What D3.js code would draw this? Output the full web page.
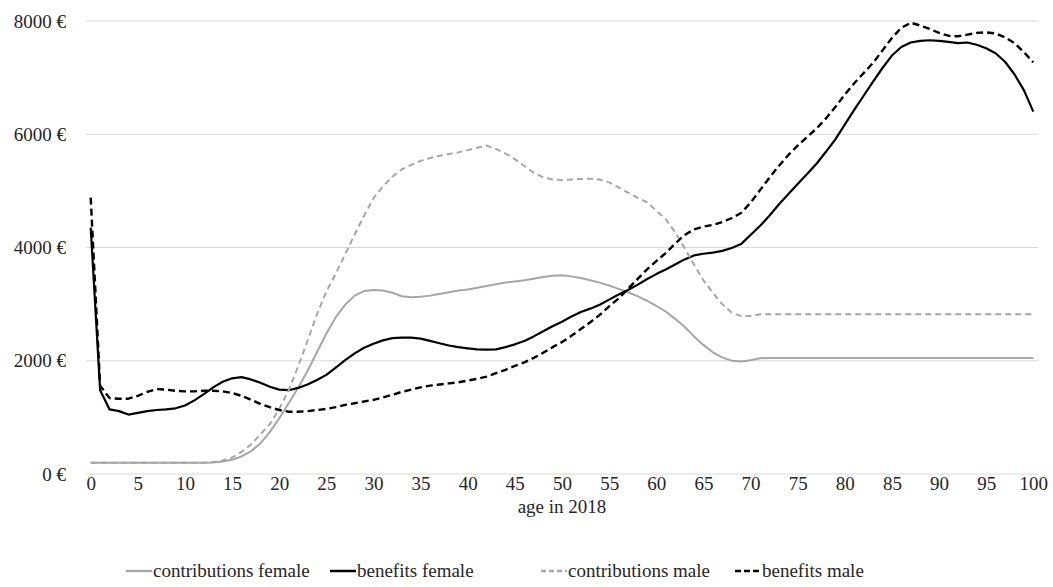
<!DOCTYPE html>
<html>
<head>
<meta charset="utf-8">
<script src="https://cdn.jsdelivr.net/npm/d3@7"></script>
<style>
  html, body { margin: 0; padding: 0; background: #fff; }
  svg { display: block; }
  text { font-family: "Liberation Serif", "Times New Roman", serif; fill: #262626; }
</style>
</head>
<body>
<svg id="chart" width="1053" height="587"></svg>
<script>
// ---- data ----
const ages = d3.range(0, 101);
const xTickValues = d3.range(0, 101, 5);
const yTickValues = [0, 2000, 4000, 6000, 8000];

const contributionsFemale = [
  200,200,200,200,200,200,200,200,200,200,200,200,200,
  205,220,250,310,400,540,740,980,1250,1520,1820,2150,2480,2770,2990,3150,3230,
  3250,3240,3200,3140,3120,3130,3150,3180,3210,3240,
  3260,3290,3320,3350,3380,3400,3420,3450,3480,3500,
  3510,3490,3460,3420,3380,3330,3270,3210,3140,3060,
  2970,2870,2740,2600,2430,2280,2150,2060,2000,1985,
  2010,2045,
  2050,2050,2050,2050,2050,2050,2050,2050,2050,2050,
  2050,2050,2050,2050,2050,2050,2050,2050,2050,2050,
  2050,2050,2050,2050,2050,2050,2050,2050,2050
];
const benefitsFemale = [
  4350,1480,1140,1110,1050,1080,1110,1130,1140,1160,
  1210,1300,1410,1530,1630,1690,1710,1670,1610,1540,
  1490,1480,1520,1580,1660,1750,1880,2010,2130,2230,
  2300,2360,2400,2410,2410,2390,2350,2310,2270,2240,
  2220,2200,2195,2200,2240,2290,2350,2430,2520,2610,
  2690,2780,2860,2920,2990,3080,3170,3250,3340,3440,
  3530,3610,3700,3790,3860,3890,3910,3940,3990,4060,
  4220,4380,4560,4760,4940,5120,5300,5480,5690,5910,
  6170,6430,6680,6930,7170,7390,7540,7620,7650,7660,
  7650,7630,7610,7620,7580,7520,7430,7280,7060,6780,
  6400
];
const contributionsMale = [
  200,200,200,200,200,200,200,200,200,200,200,200,200,
  210,240,290,390,520,700,880,1150,1480,1900,2350,2820,3220,3540,3880,4230,4560,
  4870,5080,5250,5380,5460,5530,5580,5620,5650,5680,
  5720,5760,5800,5740,5660,5560,5440,5320,5240,5200,
  5190,5200,5210,5215,5200,5150,5060,4970,4880,4800,
  4650,4500,4270,3990,3700,3420,3200,3000,2850,2790,
  2790,2820,
  2820,2820,2820,2820,2820,2820,2820,2820,2820,2820,
  2820,2820,2820,2820,2820,2820,2820,2820,2820,2820,
  2820,2820,2820,2820,2820,2820,2820,2820,2820
];
const benefitsMale = [
  4880,1560,1340,1330,1330,1380,1450,1500,1490,1470,
  1460,1460,1470,1470,1460,1430,1380,1310,1240,1180,
  1130,1100,1100,1110,1130,1150,1180,1220,1250,1280,
  1310,1350,1400,1450,1490,1530,1560,1580,1600,1620,
  1650,1680,1720,1780,1840,1910,1970,2050,2140,2240,
  2330,2440,2560,2680,2810,2960,3100,3270,3440,3610,
  3760,3900,4070,4220,4320,4370,4400,4450,4520,4610,
  4790,5010,5230,5440,5630,5800,5950,6100,6280,6480,
  6700,6900,7080,7260,7480,7700,7880,7970,7920,7860,
  7790,7740,7730,7760,7790,7800,7780,7710,7610,7450,
  7270
];

const seriesNames = ["contributions female", "benefits female", "contributions male", "benefits male"];
const seriesValues = [contributionsFemale, benefitsFemale, contributionsMale, benefitsMale];
const seriesColors = ["#a6a6a6", "#000000", "#a6a6a6", "#000000"];
const seriesDash = [null, null, "6,4", "7,4"];
const seriesWidth = [2, 2.2, 2, 2.4];

// ---- layout ----
const svg = d3.select("#chart");
const plotLeft = 86, plotRight = 1038, plotTop = 21, plotBottom = 474;

const x = d3.scaleLinear().domain([-0.5, 100.5]).range([plotLeft, plotRight]);
const y = d3.scaleLinear().domain([0, 8000]).range([plotBottom, plotTop]);

// gridlines
svg.append("g")
  .selectAll("line")
  .data(yTickValues)
  .join("line")
  .attr("x1", plotLeft).attr("x2", plotRight)
  .attr("y1", d => y(d)).attr("y2", d => y(d))
  .attr("stroke", "#d9d9d9").attr("stroke-width", 1);

// y axis
const yAxis = svg.append("g")
  .attr("transform", `translate(${plotLeft - 20},0)`)
  .call(d3.axisLeft(y).tickValues(yTickValues).tickSize(0).tickPadding(0).tickFormat(d => d + " €"));
yAxis.select(".domain").remove();
yAxis.selectAll("text").attr("font-size", 19).attr("font-family", "Liberation Serif").attr("fill", "#262626").attr("dy", "0.32em");

// x axis
const xAxis = svg.append("g")
  .attr("transform", `translate(0,${plotBottom})`)
  .call(d3.axisBottom(x).tickValues(xTickValues).tickSize(0).tickPadding(0).tickFormat(d => d));
xAxis.select(".domain").remove();
xAxis.selectAll("text").attr("font-size", 19).attr("font-family", "Liberation Serif").attr("fill", "#262626")
  .attr("y", 9).attr("dy", "0.35em");

svg.append("text")
  .attr("x", x(50)).attr("y", 506)
  .attr("dy", "0.35em")
  .attr("text-anchor", "middle")
  .attr("font-size", 19)
  .text("age in 2018");

// lines
const line = d3.line().x((d, i) => x(ages[i])).y(d => y(d));
seriesValues.forEach((vals, k) => {
  svg.append("path")
    .datum(vals)
    .attr("fill", "none")
    .attr("stroke", seriesColors[k])
    .attr("stroke-width", seriesWidth[k])
    .attr("stroke-linejoin", "round")
    .attr("stroke-dasharray", seriesDash[k])
    .attr("d", line);
});

// legend
const legendStarts = [126, 330, 541, 735];
const ly = 571;
const legend = svg.append("g");
seriesNames.forEach((name, k) => {
  const lx = legendStarts[k];
  legend.append("line")
    .attr("x1", lx).attr("x2", lx + 26)
    .attr("y1", ly).attr("y2", ly)
    .attr("stroke", seriesColors[k])
    .attr("stroke-width", seriesWidth[k] + 0.3)
    .attr("stroke-dasharray", seriesDash[k] ? (k === 3 ? "6,3" : "5,3") : null);
  legend.append("text")
    .attr("x", lx + 27).attr("y", ly).attr("dy", "0.32em")
    .attr("font-size", 19)
    .text(name);
});
</script>
</body>
</html>
